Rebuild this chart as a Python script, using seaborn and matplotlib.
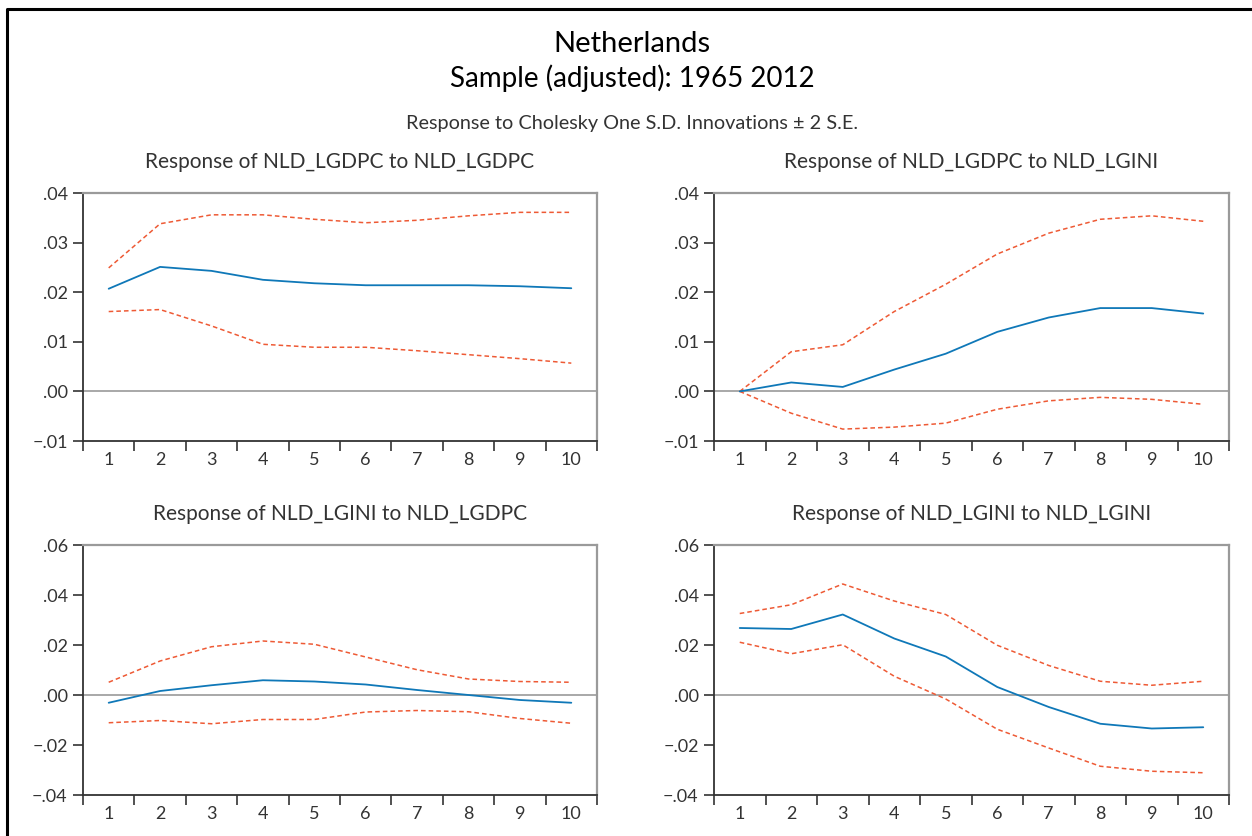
import numpy as np
import pandas as pd
import matplotlib
matplotlib.use("Agg")
import matplotlib.pyplot as plt
from matplotlib.lines import Line2D
import seaborn as sns

# horizon periods
periods = list(range(1, 11))

# Response of NLD_LGDPC to NLD_LGDPC
gdp_gdp_resp = [0.0207, 0.0251, 0.0243, 0.0225, 0.0218, 0.0214, 0.0214, 0.0214, 0.0212, 0.0208]
gdp_gdp_up = [0.0249, 0.0338, 0.0356, 0.0356, 0.0347, 0.0340, 0.0345, 0.0354, 0.0361, 0.0361]
gdp_gdp_lo = [0.0161, 0.0165, 0.0132, 0.0095, 0.0089, 0.0089, 0.0082, 0.0074, 0.0066, 0.0057]

# Response of NLD_LGDPC to NLD_LGINI
gdp_gini_resp = [0.0, 0.0018, 0.0009, 0.0044, 0.0076, 0.0120, 0.0149, 0.0168, 0.0168, 0.0157]
gdp_gini_up = [0.0, 0.0080, 0.0094, 0.0161, 0.0216, 0.0277, 0.0319, 0.0347, 0.0354, 0.0343]
gdp_gini_lo = [0.0, -0.0044, -0.0076, -0.0072, -0.0064, -0.0036, -0.0019, -0.0012, -0.0016, -0.0026]

# Response of NLD_LGINI to NLD_LGDPC
gini_gdp_resp = [-0.0031, 0.0016, 0.0039, 0.0059, 0.0054, 0.0042, 0.0020, 0.0000, -0.0020, -0.0031]
gini_gdp_up = [0.0051, 0.0136, 0.0193, 0.0216, 0.0203, 0.0152, 0.0101, 0.0064, 0.0054, 0.0051]
gini_gdp_lo = [-0.0111, -0.0102, -0.0115, -0.0098, -0.0098, -0.0068, -0.0062, -0.0067, -0.0094, -0.0113]

# Response of NLD_LGINI to NLD_LGINI
gini_gini_resp = [0.0268, 0.0264, 0.0322, 0.0226, 0.0154, 0.0032, -0.0048, -0.0115, -0.0134, -0.0129]
gini_gini_up = [0.0326, 0.0361, 0.0444, 0.0376, 0.0322, 0.0199, 0.0118, 0.0055, 0.0039, 0.0055]
gini_gini_lo = [0.0211, 0.0165, 0.0201, 0.0075, -0.0016, -0.0137, -0.0212, -0.0285, -0.0305, -0.0311]

panel_titles = ["Response of NLD_LGDPC to NLD_LGDPC", "Response of NLD_LGDPC to NLD_LGINI",
                "Response of NLD_LGINI to NLD_LGDPC", "Response of NLD_LGINI to NLD_LGINI"]
top_ticks = [0.04, 0.03, 0.02, 0.01, 0.00, -0.01]
top_labels = [".04", ".03", ".02", ".01", ".00", "\u2212.01"]
bot_ticks = [0.06, 0.04, 0.02, 0.00, -0.02, -0.04]
bot_labels = [".06", ".04", ".02", ".00", "\u2212.02", "\u2212.04"]

sns.set_theme(style="white")
plt.rcParams['font.family'] = ['Lato', 'DejaVu Sans']

BLUE = "#0f78b8"
RED = "#ee5a35"
GREY = "#9a9a9a"
DARK = "#333333"

fig = plt.figure(figsize=(12.52, 8.36), dpi=100)
W, H = 1252, 836


def px_axes(x0, x1, y0, y1):
    return fig.add_axes([x0 / W, 1 - y1 / H, (x1 - x0) / W, (y1 - y0) / H])


boxes = [(83, 597, 193, 441), (714, 1229, 193, 441),
         (83, 597, 545, 795), (714, 1229, 545, 795)]
series = [(gdp_gdp_resp, gdp_gdp_up, gdp_gdp_lo),
          (gdp_gini_resp, gdp_gini_up, gdp_gini_lo),
          (gini_gdp_resp, gini_gdp_up, gini_gdp_lo),
          (gini_gini_resp, gini_gini_up, gini_gini_lo)]

for i, (box, (resp, up, lo)) in enumerate(zip(boxes, series)):
    ax = px_axes(*box)
    df = pd.DataFrame({'period': periods, 'resp': resp, 'up': up, 'lo': lo})
    ax.axhline(0, color=GREY, lw=1.2, zorder=1)
    sns.lineplot(data=df, x='period', y='resp', ax=ax, color=BLUE, lw=1.3, zorder=3)
    sns.lineplot(data=df, x='period', y='up', ax=ax, color=RED, lw=1.1, dashes=(3, 2), zorder=2)
    sns.lineplot(data=df, x='period', y='lo', ax=ax, color=RED, lw=1.1, dashes=(3, 2), zorder=2)

    if i < 2:
        ticks, labels = top_ticks, top_labels
        ax.set_ylim(-0.01, 0.04)
    else:
        ticks, labels = bot_ticks, bot_labels
        ax.set_ylim(-0.04, 0.06)
    ax.set_yticks(ticks)
    ax.set_yticklabels(labels)
    ax.set_xlim(0.5, 10.5)
    # category boundaries carry the tick marks, labels sit in between
    ax.set_xticks(np.arange(0.5, 11, 1))
    ax.set_xticklabels([])
    ax.set_xticks(periods, minor=True)
    ax.set_xticklabels([str(p) for p in periods], minor=True)
    ax.tick_params(axis='x', which='minor', length=0, pad=8, labelsize=13, labelcolor=DARK)
    ax.tick_params(axis='x', which='major', direction='out', length=7, width=1.2, color=DARK, bottom=True)
    ax.tick_params(axis='y', direction='out', length=7, width=1.2, color=DARK, left=True,
                   labelsize=13, labelcolor=DARK, pad=4)
    ax.set_xlabel('')
    ax.set_ylabel('')
    for s in ['top', 'right']:
        ax.spines[s].set_color(GREY)
        ax.spines[s].set_linewidth(1.6)
    for s in ['left', 'bottom']:
        ax.spines[s].set_color(DARK)
        ax.spines[s].set_linewidth(1.3)
    ax.set_title(panel_titles[i], fontsize=15, color=DARK, pad=18)

fig.text(632 / W, 1 - 44 / H, "Netherlands", ha='center', va='center', fontsize=21, color='black')
fig.text(632 / W, 1 - 78 / H, "Sample (adjusted): 1965 2012", ha='center', va='center', fontsize=20, color='black')
fig.text(632 / W, 1 - 123 / H, "Response to Cholesky One S.D. Innovations \u00b1 2 S.E.",
         ha='center', va='center', fontsize=14.3, color=DARK)

# outer frame (left and top edge)
fig.add_artist(Line2D([7 / W, 7 / W, 1.0], [0.0, 1 - 9 / H, 1 - 9 / H], color='black', lw=2.2,
                      transform=fig.transFigure))

fig.savefig("out.png", dpi=100)
